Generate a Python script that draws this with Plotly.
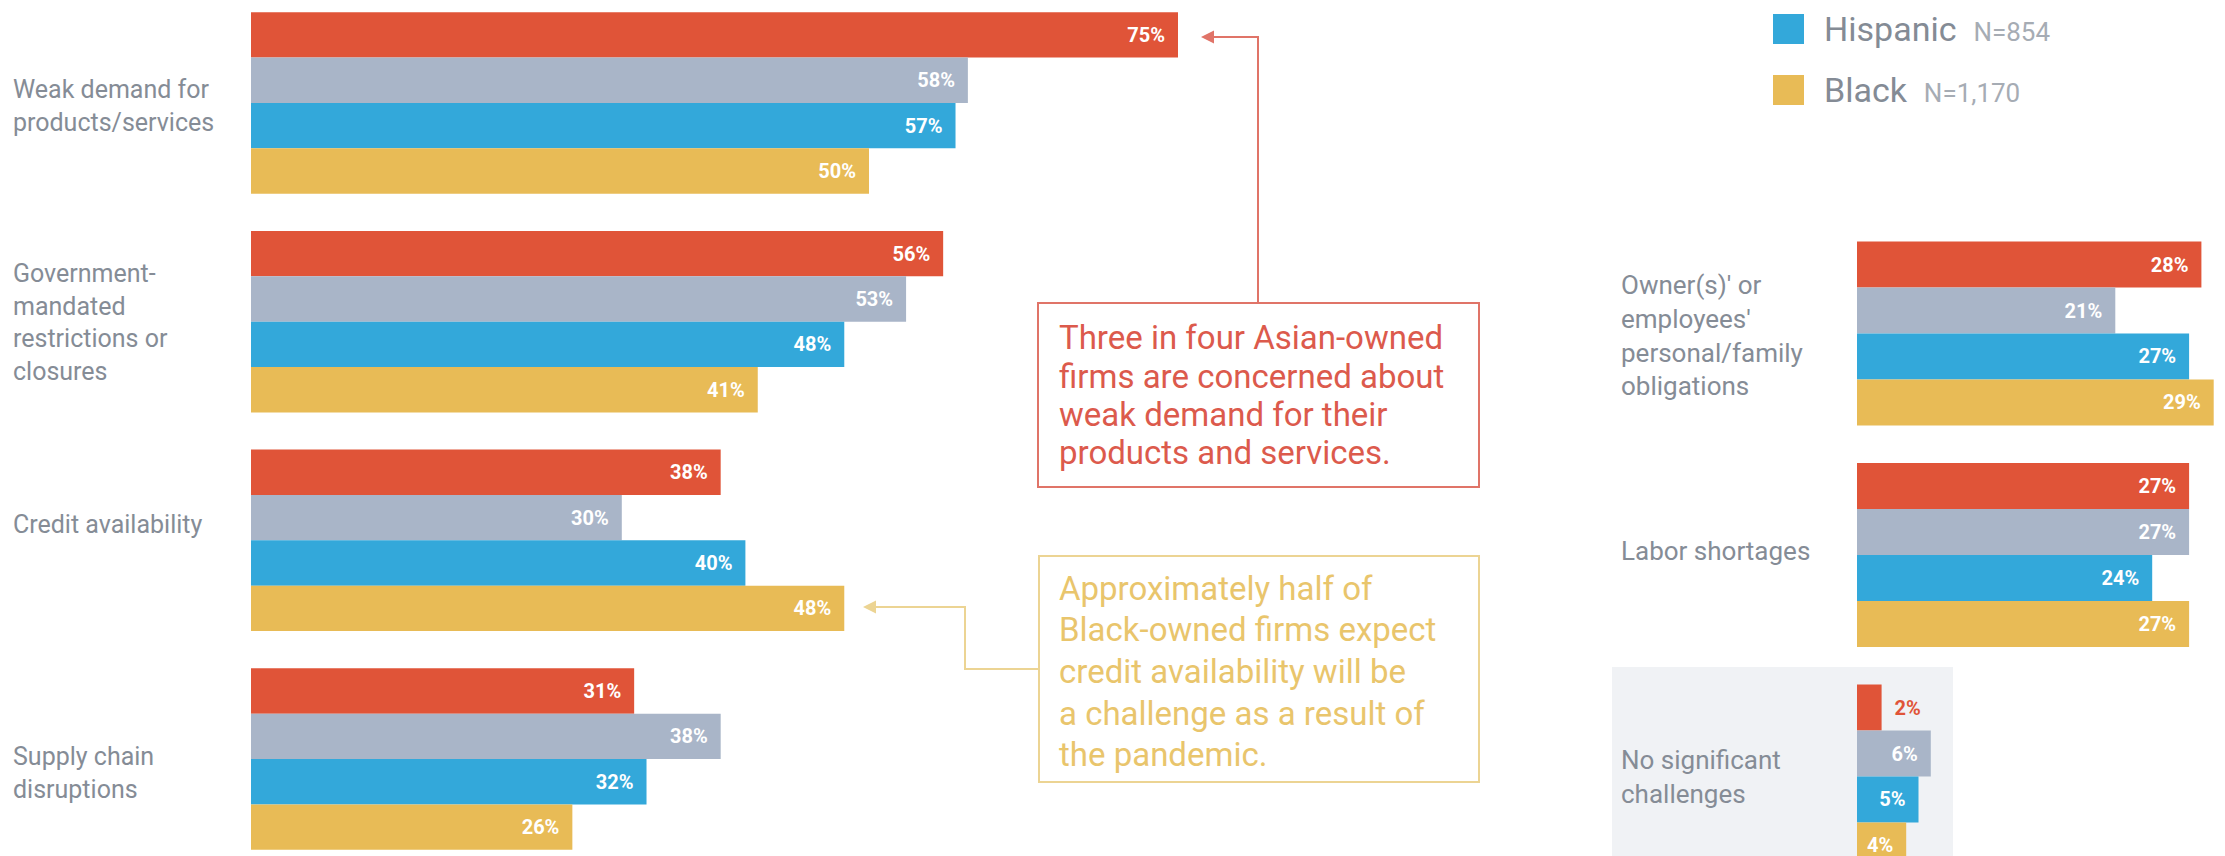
import plotly.graph_objects as go

# ---------------- data ----------------
left_categories = ["Weak demand for products/services",
                   "Government-mandated restrictions or closures",
                   "Credit availability",
                   "Supply chain disruptions"]
left_labels = ["Weak demand for<br>products/services",
               "Government-<br>mandated<br>restrictions or<br>closures",
               "Credit availability",
               "Supply chain<br>disruptions"]
right_categories = ["Owner(s)' or employees' personal/family obligations",
                    "Labor shortages",
                    "No significant challenges"]
right_labels = ["Owner(s)' or<br>employees'<br>personal/family<br>obligations",
                "Labor shortages",
                "No significant<br>challenges"]

groups = ["Asian", "White", "Hispanic", "Black"]
asian_left = [75, 56, 38, 31]
white_left = [58, 53, 30, 38]
hispanic_left = [57, 48, 40, 32]
black_left = [50, 41, 48, 26]

asian_right = [28, 27, 2]
white_right = [21, 27, 6]
hispanic_right = [27, 24, 5]
black_right = [29, 27, 4]

legend_names = ["Hispanic", "Black"]
legend_n = ["N=854", "N=1,170"]

red_note = ["Three in four Asian-owned", "firms are concerned about",
            "weak demand for their", "products and services."]
yellow_note = ["Approximately half of", "Black-owned firms expect",
               "credit availability will be", "a challenge as a result of",
               "the pandemic."]

# ---------------- style ----------------
W, H = 2225, 856
colors = {"Asian": "#E05438", "White": "#A9B5C8", "Hispanic": "#33A8DA", "Black": "#E8BB56"}
FONT = "Roboto"
LABEL_COLOR = "#858c96"
NB = "\u00a0\u00a0"


def px(x):
    return x / W


def py(y):
    return 1 - y / H


fig = go.Figure()

left_vals = {"Asian": asian_left, "White": white_left, "Hispanic": hispanic_left, "Black": black_left}
right_vals = {"Asian": asian_right, "White": white_right, "Hispanic": hispanic_right, "Black": black_right}

for g in groups:
    fig.add_trace(go.Bar(
        y=left_categories, x=left_vals[g], orientation="h", name=g,
        marker=dict(color=colors[g], line=dict(width=0)),
        texttemplate="%{x}%" + NB, textposition="inside", insidetextanchor="end",
        textangle=0, constraintext="none",
        insidetextfont=dict(family=FONT, size=20, color="white", weight="bold"),
        xaxis="x", yaxis="y", showlegend=False, hoverinfo="skip"))

for g in groups:
    vals = right_vals[g]
    pos = ["inside" if v >= 4 else "outside" for v in vals]
    tmpl = ["%{x}%" + NB if p == "inside" else NB + "%{x}%" for p in pos]
    fig.add_trace(go.Bar(
        y=right_categories, x=vals, orientation="h", name=g,
        marker=dict(color=colors[g], line=dict(width=0)),
        texttemplate=tmpl, textposition=pos, insidetextanchor="end",
        textangle=0, constraintext="none", cliponaxis=False,
        insidetextfont=dict(family=FONT, size=20, color="white", weight="bold"),
        outsidetextfont=dict(family=FONT, size=20, color=colors[g], weight="bold"),
        xaxis="x2", yaxis="y2", showlegend=False, hoverinfo="skip"))

axis_common = dict(showgrid=False, zeroline=False, showticklabels=False,
                   showline=False, ticks="", fixedrange=True)

fig.update_layout(
    width=W, height=H,
    margin=dict(l=0, r=0, t=0, b=0, pad=0),
    paper_bgcolor="white", plot_bgcolor="rgba(0,0,0,0)",
    barmode="group", bargap=0.17, bargroupgap=0,
    showlegend=False,
    font=dict(family=FONT),
    xaxis=dict(domain=[px(251), px(1250)], range=[0, 999 / 12.36], **axis_common),
    yaxis=dict(domain=[0, 1], type="category", categoryarray=left_categories,
               range=[3.4435, -0.471], anchor="x", **axis_common),
    xaxis2=dict(domain=[px(1857), 1], range=[0, 368 / 12.3], anchor="y2", **axis_common),
    yaxis2=dict(domain=[0, 1], type="category", categoryarray=right_categories,
                range=[2.3589, -1.5056], anchor="x2", **axis_common),
)

annotations = []
shapes = []

# category labels
left_shift = [-3, -1, 16, -14]
for cat, lab, s in zip(left_categories, left_labels, left_shift):
    annotations.append(dict(xref="paper", yref="y", x=px(11), y=cat, text=lab,
                            xanchor="left", yanchor="middle", align="left", showarrow=False,
                            yshift=s, font=dict(family=FONT, size=25, color=LABEL_COLOR)))
right_shift = [-2, 4, 0]
for cat, lab, s in zip(right_categories, right_labels, right_shift):
    annotations.append(dict(xref="paper", yref="y2", x=px(1619), y=cat, text=lab,
                            xanchor="left", yanchor="middle", align="left", showarrow=False,
                            yshift=s, font=dict(family=FONT, size=26, color=LABEL_COLOR)))

# background panel behind "No significant challenges"
shapes.append(dict(type="rect", xref="paper", yref="paper", layer="below",
                   x0=px(1612), x1=px(1953), y0=py(856), y1=py(667),
                   fillcolor="#f0f2f5", line=dict(width=0)))

# legend (visible part)
legend_y = [29, 90]
for name, n, yy in zip(legend_names, legend_n, legend_y):
    shapes.append(dict(type="rect", xref="paper", yref="paper",
                       x0=px(1773), x1=px(1804), y0=py(yy + 15), y1=py(yy - 15),
                       fillcolor=colors[name], line=dict(width=0)))
    annotations.append(dict(xref="paper", yref="paper", x=px(1822), y=py(yy),
                            xanchor="left", yanchor="middle", showarrow=False,
                            text=name + NB + "<span style='font-size:26px;color:#a6acb4'>" + n + "</span>",
                            font=dict(family=FONT, size=34, color="#848b95")))

# red callout
RED_L = "#e07468"
RED_T = "#dc5a4c"
shapes.append(dict(type="rect", xref="paper", yref="paper",
                   x0=px(1038), x1=px(1479), y0=py(487), y1=py(303),
                   line=dict(color=RED_L, width=2), fillcolor="rgba(0,0,0,0)"))
shapes.append(dict(type="path", xref="paper", yref="paper",
                   path=f"M {px(1258)} {py(303)} L {px(1258)} {py(37)} L {px(1215)} {py(37)}",
                   line=dict(color=RED_L, width=2)))
annotations.append(dict(xref="paper", yref="paper", x=px(1201), y=py(37),
                        ax=57, ay=0, axref="pixel", ayref="pixel", text="",
                        showarrow=True, arrowhead=2, arrowsize=1.3, arrowwidth=2,
                        arrowcolor=RED_L))
for i, line in enumerate(red_note):
    annotations.append(dict(xref="paper", yref="paper", x=px(1057), y=py(338 + 38.3 * i),
                            xanchor="left", yanchor="middle", align="left", showarrow=False,
                            text=line, font=dict(family=FONT, size=33, color=RED_T)))

# yellow callout
YEL_L = "#ecd493"
shapes.append(dict(type="rect", xref="paper", yref="paper",
                   x0=px(1039), x1=px(1479), y0=py(782), y1=py(556),
                   line=dict(color=YEL_L, width=2), fillcolor="rgba(0,0,0,0)"))
shapes.append(dict(type="path", xref="paper", yref="paper",
                   path=f"M {px(1039)} {py(669)} L {px(965)} {py(669)} L {px(965)} {py(607)} L {px(878)} {py(607)}",
                   line=dict(color=YEL_L, width=2)))
annotations.append(dict(xref="paper", yref="paper", x=px(863), y=py(607),
                        ax=102, ay=0, axref="pixel", ayref="pixel", text="",
                        showarrow=True, arrowhead=2, arrowsize=1.3, arrowwidth=2,
                        arrowcolor=YEL_L))
for i, line in enumerate(yellow_note):
    annotations.append(dict(xref="paper", yref="paper", x=px(1057), y=py(588 + 41.7 * i),
                            xanchor="left", yanchor="middle", align="left", showarrow=False,
                            text=line, font=dict(family=FONT, size=33, color="#e9c56c")))

fig.update_layout(annotations=annotations, shapes=shapes)

fig.write_html("out.html", config={"displayModeBar": False},
               post_script="document.body.style.margin='0';document.body.style.overflow='hidden';")
